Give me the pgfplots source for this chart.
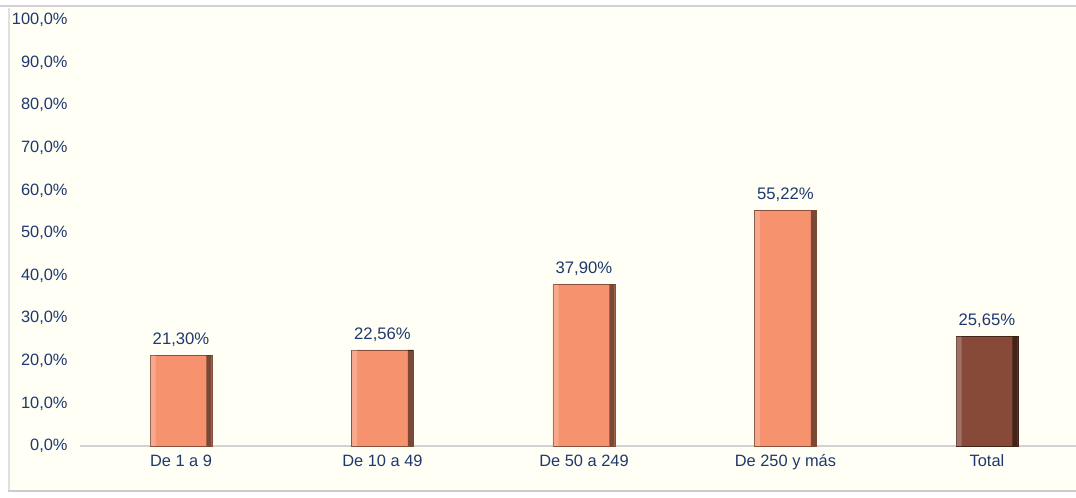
\documentclass[border=0pt]{standalone}
\usepackage{fontspec}
\setmainfont{Liberation Sans}
\usepackage{pgfplots}
\pgfplotsset{compat=1.18}
\definecolor{cream}{RGB}{255,255,245}
\definecolor{navy}{RGB}{31,56,110}
\definecolor{salmon}{RGB}{246,146,110}
\definecolor{choco}{RGB}{135,74,56}
\definecolor{axisgray}{RGB}{210,210,210}

\pgfplotsset{
  rim/.style={bar width=4pt,draw=none,forget plot},
  lab/.style={nodes near coords,point meta=explicit symbolic,
    every node near coord/.append style={font=\fontsize{12.5}{14}\selectfont,text=navy,yshift=3pt}},
}

\begin{document}
\begin{tikzpicture}
\useasboundingbox (0,0) rectangle (807pt,372.75pt);
\fill[white] (0,0) rectangle (807pt,372.75pt);
% chart area
\fill[cream] (6pt,5.25pt) rectangle (807pt,366.75pt);
\draw[black!18,line width=1pt] (0,368.25pt) -- (807pt,368.25pt);
\draw[black!12,line width=1.5pt] (6.75pt,5.25pt) -- (6.75pt,366.75pt);
\draw[black!20,line width=1pt] (6pt,4.5pt) -- (807pt,4.5pt);

\begin{axis}[at={(60.2pt,38.25pt)},anchor=south west,scale only axis,
  width=748pt,height=319.5pt,
  xmin=-0.5,xmax=4.45,ymin=0,ymax=100,
  axis line style={draw=none},
  axis x line*=bottom, axis y line*=left,
  major tick length=0pt,
  xtick={0,1,2,3,4},
  xticklabels={De 1 a 9,De 10 a 49,De 50 a 249,De 250 y más,Total},
  ytick={0,10,...,100},
  yticklabels={{0,0\%},{10,0\%},{20,0\%},{30,0\%},{40,0\%},{50,0\%},{60,0\%},{70,0\%},{80,0\%},{90,0\%},{100,0\%}},
  tick label style={font=\fontsize{12.3}{14}\selectfont,text=navy},
  yticklabel style={anchor=east,xshift=-6pt},
  xticklabel style={yshift=-3pt},
  ybar,bar width=46.5pt,
  clip=false]
\draw[axisgray,line width=0.8pt] (axis cs:-0.5,0) -- (axis cs:4.45,0);
% bars
\addplot[bar shift=0pt,fill=salmon,draw=salmon!55!black,line width=0.4pt,lab] coordinates {
  (0,21.30) [21,30\%]
  (1,22.56) [22,56\%]
  (2,37.90) [37,90\%]
  (3,55.22) [55,22\%]
};
\addplot[bar shift=0pt,fill=choco,draw=choco!50!black,line width=0.4pt,lab] coordinates {
  (4,25.65) [25,65\%]
};
% bevel rims (same values)
\addplot[rim,bar shift=-21.05pt,fill=white,fill opacity=0.22] coordinates {(0,21.30) (1,22.56) (2,37.90) (3,55.22) (4,25.65)};
\addplot[rim,bar shift=21.05pt,fill=black,fill opacity=0.5] coordinates {(0,21.30) (1,22.56) (2,37.90) (3,55.22) (4,25.65)};
\end{axis}
\end{tikzpicture}
\end{document}
